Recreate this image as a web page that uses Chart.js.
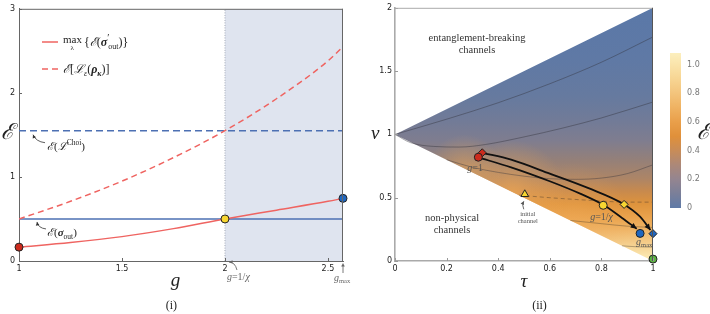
<!DOCTYPE html>
<html>
<head>
<meta charset="utf-8">
<script src="https://cdn.jsdelivr.net/npm/chart.js@4.4.1/dist/chart.umd.min.js"></script>
<style>
  html, body { margin: 0; padding: 0; background: #fff; }
  #wrap { position: relative; width: 710px; height: 314px; overflow: hidden; }
  #wrap canvas { position: absolute; top: 0; }
</style>
</head>
<body>
<div id="wrap">
  <canvas id="left" width="355" height="314" style="left:0"></canvas>
  <canvas id="right" width="355" height="314" style="left:355px"></canvas>
  <canvas id="bar" width="55" height="314" style="left:655px"></canvas>
</div>
<script>
// ---- panel (i): entanglement vs gain g ----
const gTicks = [1, 1.5, 2, 2.5];
const eTicks = [0, 1, 2, 3];
const gMax = 2.573;
const gCross = 2;
const gGrid = [1, 1.25, 1.5, 1.75, 2, 2.25, 2.5, gMax];
const eOutMax = [0.165, 0.22, 0.29, 0.385, 0.5, 0.605, 0.71, 0.745];
const eChannel = [0.5, 0.71, 0.95, 1.23, 1.55, 1.93, 2.38, 2.55];
const eChoi = 1.55;
const eSigmaOut = 0.5;

// ---- panel (ii): (tau, v) plane ----
const tauTicks = [0, 0.2, 0.4, 0.6, 0.8, 1];
const vTicks = [0, 0.5, 1, 1.5, 2];
const wedgeTau = [0, 1, 1, 0];
const wedgeV = [1, 2, 0, 1];
const contourA_tau = [0, 0.2, 0.4, 0.6, 0.8, 1];
const contourA_v = [1, 1.12, 1.25, 1.4, 1.57, 1.77];
const contourB_tau = [0, 0.06, 0.15, 0.25, 0.35, 0.5, 0.65, 0.8, 1];
const contourB_v = [1, 0.935, 0.905, 0.9, 0.92, 0.98, 1.05, 1.13, 1.256];
const contourC_tau = [0.2, 0.3, 0.4, 0.5, 0.6, 0.7, 0.8, 0.9, 1];
const contourC_v = [0.8, 0.74, 0.7, 0.67, 0.65, 0.645, 0.655, 0.69, 0.76];
const contourD_tau = [0.48, 0.6, 0.75, 0.9, 1];
const contourD_v = [0.52, 0.5, 0.48, 0.465, 0.465];
const contourE_tau = [0.68, 0.8, 0.9, 1];
const contourE_v = [0.32, 0.295, 0.275, 0.265];
const contourF_tau = [0.88, 0.94, 1];
const contourF_v = [0.12, 0.112, 0.11];
const circlePath_tau = [0.32, 0.45, 0.6, 0.72, 0.81, 0.88, 0.937];
const circlePath_v = [0.82, 0.74, 0.63, 0.53, 0.44, 0.34, 0.255];
const diamondPath_tau = [0.338, 0.45, 0.6, 0.75, 0.888, 0.95, 0.99];
const diamondPath_v = [0.855, 0.8, 0.69, 0.575, 0.447, 0.35, 0.245];
const circleMarks_tau = [0.323, 0.807, 0.95];
const circleMarks_v = [0.82, 0.44, 0.218];
const diamondMarks_tau = [0.338, 0.888, 1];
const diamondMarks_v = [0.855, 0.447, 0.216];
const initialTau = [0.503];
const initialV = [0.527];
const limitTau = [1];
const limitV = [0.015];

// ---- colour bar ----
const cbTicks = [0, 0.2, 0.4, 0.6, 0.8, 1.0];
const cbMax = 1.08;

// ---- colour styles ----
const cbStopVal = [0, 0.1, 0.2, 0.3, 0.4, 0.5, 0.6, 0.7, 0.8, 0.9, 1.0, 1.08];
const cbStopCol = ['#5f7aa7', '#7a7f99', '#948590', '#ac8878', '#c88c58', '#e0903a',
                   '#e99f4a', '#efb262', '#f3c47c', '#f7d593', '#fae4ab', '#fcefbe'];
const wedgeStopV = [2, 1.6, 1.3, 1.1, 0.95, 0.8, 0.65, 0.55, 0.45, 0.35, 0.25, 0.15, 0.05, 0];
const wedgeStopCol = ['#5a78a8', '#5f79a5', '#667a9f', '#727b97', '#7f7d8f', '#948079', '#ad8566',
                      '#c88a4d', '#de933c', '#e9a24c', '#efb466', '#f4cb88', '#fae3aa', '#fcebb8'];
// soft highlights hugging the lower (non-physical) edge
const glows = [
  { tau: 0.27, v: 0.7, r: 38, a: 0.55 },
  { tau: 0.45, v: 0.52, r: 55, a: 0.7 },
  { tau: 0.68, v: 0.3, r: 60, a: 0.45 }
];

const SERIF = "'Liberation Serif','DejaVu Serif',serif";
const SANS = "'DejaVu Sans','Liberation Sans',sans-serif";
const R = s => s + 'px ' + SERIF;
const I = s => 'italic ' + s + 'px ' + SERIF;
const BI = s => 'italic bold ' + s + 'px ' + SERIF;

function pts(xs, ys) { return xs.map((x, i) => ({ x: x, y: ys[i] })); }

function drawParts(ctx, x, y, parts) {
  let cx = x;
  for (const p of parts) {
    ctx.font = p.f;
    ctx.fillText(p.t, cx, y + (p.dy || 0));
    cx += ctx.measureText(p.t).width + (p.gap || 0);
  }
  return cx;
}

function arrowHead(ctx, x, y, dx, dy, len, half) {
  const n = Math.hypot(dx, dy) || 1;
  const ux = dx / n, uy = dy / n;
  ctx.beginPath();
  ctx.moveTo(x, y);
  ctx.lineTo(x - ux * len - uy * half, y - uy * len + ux * half);
  ctx.lineTo(x - ux * len + uy * half, y - uy * len - ux * half);
  ctx.closePath();
  ctx.fill();
}

function curvedArrow(ctx, x0, y0, cx, cy, x1, y1) {
  ctx.beginPath();
  ctx.moveTo(x0, y0);
  ctx.quadraticCurveTo(cx, cy, x1, y1);
  ctx.stroke();
  arrowHead(ctx, x1, y1, x1 - cx, y1 - cy, 3.5, 1.8);
}

const innerTicks = {
  id: 'innerTicks',
  afterDatasetsDraw(chart, args, opts) {
    const { ctx, chartArea: a } = chart;
    const xs = chart.scales.x, ys = chart.scales.y;
    ctx.save();
    ctx.strokeStyle = opts.tickColor;
    ctx.lineWidth = 1;
    xs.ticks.forEach(t => {
      const px = Math.round(xs.getPixelForValue(t.value)) + 0.5;
      ctx.beginPath(); ctx.moveTo(px, a.bottom); ctx.lineTo(px, a.bottom - 3); ctx.stroke();
    });
    ys.ticks.forEach(t => {
      const py = Math.round(ys.getPixelForValue(t.value)) + 0.5;
      ctx.beginPath(); ctx.moveTo(a.left, py); ctx.lineTo(a.left + 3, py); ctx.stroke();
    });
    ctx.strokeStyle = opts.topColor;
    ctx.beginPath(); ctx.moveTo(a.left, a.top + 0.5); ctx.lineTo(a.right, a.top + 0.5); ctx.stroke();
    ctx.strokeStyle = opts.rightColor;
    ctx.beginPath(); ctx.moveTo(a.right - 0.5, a.top); ctx.lineTo(a.right - 0.5, a.bottom); ctx.stroke();
    ctx.restore();
  }
};

const arrows = {
  id: 'arrows',
  afterDatasetsDraw(chart) {
    const ctx = chart.ctx;
    ctx.save();
    chart.data.datasets.forEach((ds, i) => {
      if (!ds.arrowHead) return;
      const pts = chart.getDatasetMeta(i).data;
      const p = pts[pts.length - 1], q = pts[pts.length - 2];
      const bx = p.cp1x !== undefined ? p.cp1x : q.x;
      const by = p.cp1y !== undefined ? p.cp1y : q.y;
      ctx.fillStyle = ds.borderColor;
      arrowHead(ctx, p.x, p.y, p.x - bx, p.y - by, 6, 2.8);
    });
    ctx.restore();
  }
};

const base = {
  responsive: false,
  animation: false,
  events: [],
  elements: { point: { radius: 0 }, line: { cubicInterpolationMode: 'monotone' } }
};

const tickFont = { family: SANS, size: 8 };

// ================= panel (i) =================
const textLeft = {
  id: 'textLeft',
  afterDraw(chart) {
    const { ctx } = chart;
    const xs = chart.scales.x, ys = chart.scales.y;
    const left = chart.chartArea.left;
    ctx.save();
    ctx.fillStyle = '#222';
    ctx.textBaseline = 'alphabetic';
    // legend
    const l1 = chart.data.datasets[1], l2 = chart.data.datasets[2];
    ctx.lineWidth = 1.5;
    ctx.strokeStyle = l1.borderColor;
    ctx.beginPath(); ctx.moveTo(left + 23, 42); ctx.lineTo(left + 39, 42); ctx.stroke();
    ctx.strokeStyle = l2.borderColor;
    ctx.setLineDash(l2.borderDash);
    ctx.beginPath(); ctx.moveTo(left + 23, 69); ctx.lineTo(left + 40, 69); ctx.stroke();
    ctx.setLineDash([]);
    ctx.font = R(11);
    const mw = ctx.measureText('max').width;
    ctx.fillText('max', left + 44, 43);
    ctx.font = R(7);
    ctx.fillText('\u03bb', left + 44 + mw / 2 - 2, 50);
    drawParts(ctx, left + 46 + mw, 46, [
      { t: '{', f: R(12) }, { t: '\u2130', f: I(12) }, { t: '(', f: R(12) },
      { t: '\u03c3', f: BI(12) }, { t: '\u2032', f: R(10), dy: -5, gap: -1 },
      { t: 'out', f: R(8), dy: 3 }, { t: ')}', f: R(12) }
    ]);
    drawParts(ctx, left + 44, 73, [
      { t: '\u2130', f: I(12) }, { t: '[', f: R(12) }, { t: '\u2112', f: I(12) },
      { t: '\u03b5', f: I(8), dy: 3 }, { t: '(', f: R(12) }, { t: '\u03c1', f: BI(12) },
      { t: '\u03ba', f: BI(8), dy: 3 }, { t: ')]', f: R(12) }
    ]);
    // line labels
    const yChoi = ys.getPixelForValue(eChoi);
    drawParts(ctx, left + 28, yChoi + 19, [
      { t: '\u2130', f: I(11) }, { t: '(', f: R(11) }, { t: '\u2112', f: I(11) },
      { t: 'Choi', f: R(7.5), dy: -5 }, { t: ')', f: R(11) }
    ]);
    const ySig = ys.getPixelForValue(eSigmaOut);
    drawParts(ctx, left + 28, ySig + 17, [
      { t: '\u2130', f: I(11) }, { t: '(', f: R(11) }, { t: '\u03c3', f: BI(11) },
      { t: 'out', f: R(7.5), dy: 3 }, { t: ')', f: R(11) }
    ]);
    ctx.strokeStyle = '#333';
    ctx.fillStyle = '#333';
    ctx.lineWidth = 0.8;
    curvedArrow(ctx, left + 26, yChoi + 12, left + 17, yChoi + 11, left + 14, yChoi + 4);
    curvedArrow(ctx, left + 27, ySig + 10, left + 19, ySig + 9, left + 18, ySig + 3);
    // below-axis notes
    const bottom = chart.chartArea.bottom;
    const xc = xs.getPixelForValue(gCross);
    ctx.fillStyle = '#666';
    ctx.strokeStyle = '#555';
    drawParts(ctx, xc + 2, bottom + 19, [
      { t: 'g', f: I(10) }, { t: '=1/', f: R(10) }, { t: '\u03c7', f: I(10) }
    ]);
    curvedArrow(ctx, xc + 12, bottom + 9, xc + 10, bottom + 1, xc + 4, bottom + 1);
    const xm = xs.getPixelForValue(gMax);
    drawParts(ctx, xm - 9, bottom + 20, [{ t: 'g', f: I(10) }, { t: 'max', f: R(6.5), dy: 2 }]);
    ctx.beginPath(); ctx.moveTo(xm, bottom + 12); ctx.lineTo(xm, bottom + 4); ctx.stroke();
    arrowHead(ctx, xm, bottom + 2, 0, -1, 3.5, 1.8);
    // axis titles
    ctx.fillStyle = '#222';
    ctx.font = I(22);
    ctx.fillText('\u2130', 1, ys.getPixelForValue(eChoi) + 8);
    ctx.font = I(19);
    ctx.textAlign = 'center';
    ctx.fillText('g', xs.getPixelForValue(1.76), 286);
    ctx.font = R(12);
    ctx.fillText('(i)', xs.getPixelForValue(1.74), 309);
    ctx.restore();
  }
};

new Chart(document.getElementById('left'), {
  type: 'line',
  data: {
    datasets: [
      { data: [{ x: gGrid[0], y: eOutMax[0] }, { x: gGrid[4], y: eOutMax[4] }, { x: gGrid[7], y: eOutMax[7] }],
        showLine: false, pointRadius: 4, pointBorderWidth: 1, pointBorderColor: '#222',
        pointBackgroundColor: ['#cc2b1d', '#f7d631', '#1f66bf'], clip: false, order: 0 },
      { data: pts(gGrid, eOutMax), borderColor: '#ef6461', borderWidth: 1.5, order: 1 },
      { data: pts(gGrid, eChannel), borderColor: '#ef6461', borderWidth: 1.5, borderDash: [6, 4], order: 1 },
      { data: [{ x: 1, y: eSigmaOut }, { x: gMax, y: eSigmaOut }], borderColor: '#4d70b3', borderWidth: 1.5, order: 2 },
      { data: [{ x: 1, y: eChoi }, { x: gMax, y: eChoi }], borderColor: '#4d70b3', borderWidth: 1.5, borderDash: [7, 4], order: 2 },
      { data: [{ x: gCross, y: 0 }, { x: gCross, y: 3 }], borderColor: '#a3a9b6', borderWidth: 1, borderDash: [1, 1.5], order: 3 },
      { data: [{ x: gCross, y: 3 }, { x: gMax, y: 3 }], borderWidth: 0, backgroundColor: '#dfe4ef', fill: 'origin', order: 4 }
    ]
  },
  options: Object.assign({}, base, {
    layout: { padding: { left: 0, top: 3, right: 12, bottom: 0 } },
    plugins: {
      legend: { display: false }, tooltip: { enabled: false },
      innerTicks: { tickColor: '#666', topColor: '#666', rightColor: '#666' }
    },
    scales: {
      x: {
        type: 'linear', min: 1, max: gMax,
        afterBuildTicks: s => { s.ticks = gTicks.map(v => ({ value: v })); },
        afterFit: s => { s.height = 53; },
        ticks: { font: tickFont, color: '#222', padding: 3, maxRotation: 0, autoSkip: false, callback: v => String(v) },
        grid: { display: false, drawTicks: false }, border: { color: '#666', width: 1 }
      },
      y: {
        type: 'linear', min: 0, max: 3,
        afterBuildTicks: s => { s.ticks = eTicks.map(v => ({ value: v })); },
        afterFit: s => { s.width = 19; },
        ticks: { font: tickFont, color: '#222', padding: 4, callback: v => String(v) },
        grid: { display: false, drawTicks: false }, border: { color: '#666', width: 1 }
      }
    }
  }),
  plugins: [innerTicks, textLeft]
});

// ================= panel (ii) =================
function wedgeFill(chart) {
  const a = chart.chartArea;
  if (!a) return '#8a8090';
  const ys = chart.scales.y;
  const y0 = ys.getPixelForValue(2), y1 = ys.getPixelForValue(0);
  const g = chart.ctx.createLinearGradient(0, y0, 0, y1);
  wedgeStopV.forEach((v, i) => g.addColorStop((ys.getPixelForValue(v) - y0) / (y1 - y0), wedgeStopCol[i]));
  return g;
}
function glowFill(chart, k) {
  const a = chart.chartArea;
  if (!a) return 'rgba(0,0,0,0)';
  const s = glows[k];
  const cx = chart.scales.x.getPixelForValue(s.tau), cy = chart.scales.y.getPixelForValue(s.v);
  const g = chart.ctx.createRadialGradient(cx, cy, 0, cx, cy, s.r);
  g.addColorStop(0, 'rgba(240,170,88,' + s.a + ')');
  g.addColorStop(0.45, 'rgba(240,170,88,' + (s.a * 0.5) + ')');
  g.addColorStop(1, 'rgba(240,170,88,0)');
  return g;
}

const textRight = {
  id: 'textRight',
  afterDraw(chart) {
    const { ctx } = chart;
    const xs = chart.scales.x, ys = chart.scales.y;
    const P = (t, v) => [xs.getPixelForValue(t), ys.getPixelForValue(v)];
    ctx.save();
    ctx.textAlign = 'center';
    ctx.fillStyle = '#333';
    ctx.font = R(10.5);
    ctx.fillText('entanglement-breaking', 122, 41);
    ctx.fillText('channels', 122, 53);
    ctx.fillText('non-physical', 97, 221);
    ctx.fillText('channels', 97, 233);
    ctx.fillStyle = '#555';
    ctx.font = R(6.5);
    const [tx, ty] = P(initialTau[0], initialV[0]);
    ctx.fillText('initial', tx + 3, ty + 22);
    ctx.fillText('channel', tx + 3, ty + 29);
    ctx.strokeStyle = '#444'; ctx.lineWidth = 0.8;
    curvedArrow(ctx, tx - 1, ty + 15, tx - 3, ty + 11, tx - 1, ty + 7);
    ctx.textAlign = 'left';
    ctx.fillStyle = '#555';
    const [rx, ry] = P(circleMarks_tau[0], circleMarks_v[0]);
    drawParts(ctx, rx - 11, ry + 14, [{ t: 'g', f: I(10) }, { t: '=1', f: R(10) }]);
    const [yx, yy] = P(circleMarks_tau[1], circleMarks_v[1]);
    drawParts(ctx, yx - 13, yy + 15, [{ t: 'g', f: I(10) }, { t: '=1/', f: R(10) }, { t: '\u03c7', f: I(10) }]);
    const [bx, by] = P(circleMarks_tau[2], circleMarks_v[2]);
    drawParts(ctx, bx - 4, by + 12, [{ t: 'g', f: I(10) }, { t: 'max', f: R(6.5), dy: 2 }]);
    ctx.fillStyle = '#222';
    ctx.font = I(19);
    ctx.fillText('v', 16, ys.getPixelForValue(1) + 5);
    ctx.textAlign = 'center';
    ctx.fillText('\u03c4', xs.getPixelForValue(0.5), 287);
    ctx.font = R(12);
    ctx.fillText('(ii)', xs.getPixelForValue(0.56), 309);
    ctx.restore();
  }
};

const markStyle = { showLine: false, pointBorderWidth: 1, pointBorderColor: '#222', clip: false, order: 0 };
const wedgeShape = { borderWidth: 0, fill: 'shape', cubicInterpolationMode: 'default', tension: 0 };

new Chart(document.getElementById('right'), {
  type: 'line',
  data: {
    datasets: [
      Object.assign({ data: pts(circleMarks_tau, circleMarks_v), pointRadius: 4, pointStyle: 'circle',
        pointBackgroundColor: ['#cc2b1d', '#f7d631', '#1f66bf'] }, markStyle),
      Object.assign({ data: pts(diamondMarks_tau, diamondMarks_v), pointRadius: 4, pointStyle: 'rectRot',
        pointBackgroundColor: ['#cc2b1d', '#f7d631', '#1f66bf'] }, markStyle),
      Object.assign({ data: pts(initialTau, initialV), pointRadius: 4.5, pointStyle: 'triangle',
        pointBackgroundColor: '#f7d631' }, markStyle),
      Object.assign({ data: pts(limitTau, limitV), pointRadius: 4, pointStyle: 'circle',
        pointBackgroundColor: '#5cb342' }, markStyle),
      { data: pts(circlePath_tau, circlePath_v), borderColor: '#111', borderWidth: 1.8, arrowHead: true, order: 1 },
      { data: pts(diamondPath_tau, diamondPath_v), borderColor: '#111', borderWidth: 1.8, arrowHead: true, order: 1 },
      { data: pts(contourA_tau, contourA_v), borderColor: 'rgba(50,50,60,0.55)', borderWidth: 0.8, order: 2 },
      { data: pts(contourB_tau, contourB_v), borderColor: 'rgba(50,50,60,0.55)', borderWidth: 0.8, order: 2 },
      { data: pts(contourC_tau, contourC_v), borderColor: 'rgba(50,50,60,0.5)', borderWidth: 0.8, order: 2 },
      { data: pts(contourD_tau, contourD_v), borderColor: 'rgba(60,50,40,0.5)', borderWidth: 0.8, borderDash: [4, 3], order: 2 },
      { data: pts(contourE_tau, contourE_v), borderColor: 'rgba(60,50,40,0.45)', borderWidth: 0.8, order: 2 },
      { data: pts(contourF_tau, contourF_v), borderColor: 'rgba(60,50,40,0.45)', borderWidth: 0.8, order: 2 },
      Object.assign({ data: pts(wedgeTau, wedgeV), backgroundColor: c => glowFill(c.chart, 0), order: 3 }, wedgeShape),
      Object.assign({ data: pts(wedgeTau, wedgeV), backgroundColor: c => glowFill(c.chart, 1), order: 3 }, wedgeShape),
      Object.assign({ data: pts(wedgeTau, wedgeV), backgroundColor: c => glowFill(c.chart, 2), order: 3 }, wedgeShape),
      Object.assign({ data: pts(wedgeTau, wedgeV), backgroundColor: c => wedgeFill(c.chart), order: 4 }, wedgeShape)
    ]
  },
  options: Object.assign({}, base, {
    layout: { padding: { left: 0, top: 3, right: 57, bottom: 0 } },
    plugins: {
      legend: { display: false }, tooltip: { enabled: false },
      innerTicks: { tickColor: '#999', topColor: '#aaa', rightColor: '#555' }
    },
    scales: {
      x: {
        type: 'linear', min: 0, max: 1,
        afterBuildTicks: s => { s.ticks = tauTicks.map(v => ({ value: v })); },
        afterFit: s => { s.height = 53; },
        ticks: { font: tickFont, color: '#222', padding: 3, maxRotation: 0, autoSkip: false, callback: v => String(v) },
        grid: { display: false, drawTicks: false }, border: { color: '#aaa', width: 1.6 }
      },
      y: {
        type: 'linear', min: 0, max: 2,
        afterBuildTicks: s => { s.ticks = vTicks.map(v => ({ value: v })); },
        afterFit: s => { s.width = 40; },
        ticks: { font: tickFont, color: '#222', padding: 3, callback: v => String(v) },
        grid: { display: false, drawTicks: false }, border: { color: '#aaa', width: 1.6 }
      }
    }
  }),
  plugins: [innerTicks, arrows, textRight]
});

// ================= colour bar =================
function barFill(chart) {
  const a = chart.chartArea;
  if (!a) return '#e0903a';
  const ys = chart.scales.y;
  const y0 = ys.getPixelForValue(0), y1 = ys.getPixelForValue(cbMax);
  const g = chart.ctx.createLinearGradient(0, y0, 0, y1);
  cbStopVal.forEach((v, i) => g.addColorStop(v / cbMax, cbStopCol[i]));
  return g;
}

new Chart(document.getElementById('bar'), {
  type: 'bar',
  data: {
    labels: ['\u2130'],
    datasets: [{ data: [cbMax], backgroundColor: c => barFill(c.chart), borderWidth: 0,
                 barPercentage: 1, categoryPercentage: 1 }]
  },
  options: Object.assign({}, base, {
    layout: { padding: { left: 15, top: 53, right: 0, bottom: 106 } },
    plugins: { legend: { display: false }, tooltip: { enabled: false } },
    scales: {
      x: { display: false },
      y: {
        position: 'right', min: 0, max: cbMax,
        afterBuildTicks: s => { s.ticks = cbTicks.map(v => ({ value: v })); },
        afterFit: s => { s.width = 29; },
        ticks: { font: tickFont, color: '#777', padding: 6,
                 callback: v => v === 0 ? '0' : v.toFixed(1) },
        grid: { display: false, drawTicks: false }, border: { display: false }
      }
    }
  }),
  plugins: [{
    id: 'cbLabel',
    afterDraw(chart) {
      const ctx = chart.ctx;
      ctx.save();
      ctx.fillStyle = '#222';
      ctx.font = I(22);
      ctx.fillText('\u2130', 42, chart.scales.y.getPixelForValue(0.53) + 7);
      ctx.restore();
    }
  }]
});
</script>
</body>
</html>
